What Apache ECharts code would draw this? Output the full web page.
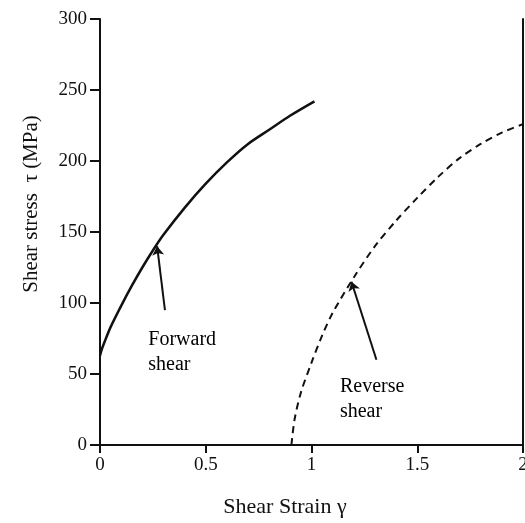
<!DOCTYPE html>
<html>
<head>
<meta charset="utf-8">
<script src="https://cdn.jsdelivr.net/npm/echarts@6/dist/echarts.min.js"></script>
<style>
html,body{margin:0;padding:0;background:#fff;}
#chart{width:525px;height:523px;}
</style>
</head>
<body>
<div id="chart"></div>
<script>
// Forward shear curve [strain, stress MPa]
var forwardShear = [
  [0.0, 63], [0.01, 68], [0.02, 72], [0.05, 83], [0.1, 98], [0.15, 112], [0.2, 125],
  [0.25, 137], [0.3, 148], [0.4, 167], [0.5, 184], [0.6, 199], [0.7, 212],
  [0.8, 222], [0.9, 232], [1.014, 242]
];
// Reverse shear curve
var reverseShear = [
  [0.905, 0], [0.92, 18], [0.95, 37], [1.0, 58], [1.05, 77], [1.1, 93],
  [1.2, 118], [1.3, 140], [1.4, 158], [1.5, 174], [1.6, 189], [1.7, 202],
  [1.8, 212], [1.9, 220], [2.0, 226]
];
// Annotation arrows: [tail, tip]
var forwardArrow = [[0.307, 95], [0.27, 140]];
var reverseArrow = [[1.307, 60], [1.189, 115]];
// Annotation labels: [x, y, text]
var annotations = [
  [0.226, 65, 'Forward\nshear'],
  [1.132, 32, 'Reverse\nshear']
];
var xTicks = { min: 0, max: 2, interval: 0.5 };
var yTicks = { min: 0, max: 300, interval: 50 };

var serif = '"Liberation Serif", "DejaVu Serif", serif';
var ink = '#111';

var chart = echarts.init(document.getElementById('chart'));
chart.setOption({
  animation: false,
  backgroundColor: '#fff',
  grid: { left: 100, right: 2, top: 19, bottom: 78, containLabel: false, outerBoundsMode: 'none' },
  xAxis: {
    type: 'value', min: xTicks.min, max: xTicks.max, interval: xTicks.interval,
    name: 'Shear Strain γ', nameLocation: 'middle', nameGap: 51,
    nameTextStyle: { fontFamily: serif, fontSize: 22, color: ink, padding: [0, 53, 0, 0] },
    axisLine: { show: true, onZero: false, lineStyle: { color: ink, width: 2 } },
    axisTick: { show: true, length: 8, lineStyle: { color: ink, width: 2 } },
    axisLabel: { fontFamily: serif, fontSize: 19, color: ink, margin: 11, showMaxLabel: true, hideOverlap: false },
    splitLine: { show: false }
  },
  yAxis: [{
    type: 'value', min: yTicks.min, max: yTicks.max, interval: yTicks.interval,
    name: 'Shear stress  τ (MPa)', nameLocation: 'middle', nameGap: 58,
    nameTextStyle: { fontFamily: serif, fontSize: 21, color: ink, padding: [0, 0, 0, 56] },
    axisLine: { show: true, lineStyle: { color: ink, width: 2 } },
    axisTick: { show: true, length: 10, lineStyle: { color: ink, width: 2 } },
    axisLabel: { fontFamily: serif, fontSize: 19, color: ink, margin: 13 },
    splitLine: { show: false }
  }, {
    type: 'value', position: 'right', min: yTicks.min, max: yTicks.max,
    axisLine: { show: true, lineStyle: { color: ink, width: 2 } },
    axisTick: { show: false }, axisLabel: { show: false }, splitLine: { show: false }
  }],
  series: [
    {
      type: 'line', data: forwardShear, smooth: 0.3, showSymbol: false,
      lineStyle: { color: ink, width: 2.5 }
    },
    {
      type: 'line', data: reverseShear, smooth: 0.3, showSymbol: false,
      lineStyle: { color: ink, width: 2, type: [7, 5] }
    },
    {
      type: 'lines', coordinateSystem: 'cartesian2d',
      symbol: ['none', 'arrow'], symbolSize: 9,
      lineStyle: { color: ink, width: 2, opacity: 1 },
      data: [{ coords: forwardArrow }, { coords: reverseArrow }]
    },
    {
      type: 'scatter', symbolSize: 1, itemStyle: { opacity: 0 },
      data: annotations.map(function (a) { return { value: [a[0], a[1]], name: a[2] }; }),
      label: {
        show: true, position: 'right', distance: 0, align: 'left', verticalAlign: 'middle',
        formatter: function (p) { return p.name; },
        fontFamily: serif, fontSize: 20, lineHeight: 25, color: '#000', opacity: 1,
        textBorderWidth: 0
      }
    }
  ]
});
</script>
</body>
</html>
